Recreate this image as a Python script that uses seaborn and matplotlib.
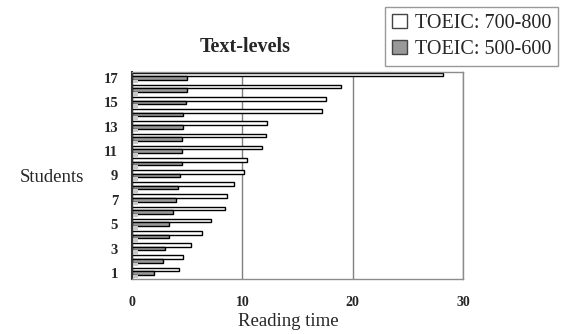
import matplotlib
matplotlib.use("Agg")
import matplotlib.pyplot as plt
import seaborn as sns
import pandas as pd
from matplotlib.patches import Patch

students = list(range(1, 18))
toeic_high = [4.25, 4.6, 5.35, 6.35, 7.15, 8.45, 8.6, 9.25, 10.15, 10.4,
              11.8, 12.1, 12.2, 17.2, 17.6, 18.9, 28.2]
toeic_low = [1.95, 2.8, 3.0, 3.35, 3.35, 3.75, 4.0, 4.2, 4.35, 4.5,
             4.5, 4.5, 4.65, 4.65, 4.85, 5.0, 5.0]
third = [0.5] * 17

label_high = "TOEIC: 700-800"
label_low = "TOEIC: 500-600"
label_third = "third"

rows = []
for s, a, b, c in zip(students, toeic_high, toeic_low, third):
    rows.append({"Students": str(s), "group": label_high, "Reading time": a})
    rows.append({"Students": str(s), "group": label_low, "Reading time": b})
    rows.append({"Students": str(s), "group": label_third, "Reading time": c})
df = pd.DataFrame(rows)

sns.set_theme(style="white")
plt.rcParams["font.family"] = ["Liberation Serif", "DejaVu Serif"]

fig = plt.figure(figsize=(5.66, 3.34), dpi=100)
ax = fig.add_axes([132 / 566, 1 - 279 / 334, (463 - 132) / 566, (279 - 72) / 334])

order = [str(s) for s in reversed(students)]
palette = {label_high: "white", label_low: "#999999", label_third: "#c8c8c8"}
sns.barplot(data=df, y="Students", x="Reading time", hue="group",
            order=order, hue_order=[label_high, label_low, label_third],
            palette=palette, orient="h", width=0.88, ax=ax,
            legend=False, errorbar=None, saturation=1)

# outline the two main series, leave the short third bars plain
for bar_container, edge in zip(ax.containers, ["black", "black", None]):
    for p in bar_container:
        if edge:
            p.set_edgecolor(edge)
            p.set_linewidth(1.0)
        else:
            p.set_linewidth(0)

ax.set_xlim(0, 30)
ax.set_xticks([0, 10, 20, 30])
ax.xaxis.grid(True, color="#808080", linewidth=1)
ax.yaxis.grid(False)
ax.set_axisbelow(True)

ax.set_yticks(range(len(order)))
ax.set_yticklabels([lab if int(lab) % 2 == 1 else "" for lab in order])
ax.tick_params(axis="y", length=0, pad=10, labelsize=10.5)
ax.tick_params(axis="x", length=0, pad=12, labelsize=10)
for t in ax.get_xticklabels() + ax.get_yticklabels():
    t.set_fontweight("bold")

ax.set_xlabel("")
ax.set_ylabel("")
for side in ["top", "right", "bottom"]:
    ax.spines[side].set_color("#8c8c8c")
    ax.spines[side].set_linewidth(1)
ax.spines["left"].set_color("#333333")
ax.spines["left"].set_linewidth(1.5)

fig.text(245 / 566, 1 - 47 / 334, "Text-levels", ha="center", va="center",
         fontsize=14.5, fontweight="bold")
fig.text(52 / 566, 1 - 177 / 334, "Students", ha="center", va="center",
         fontsize=13.5)
fig.text(288 / 566, 1 - 322 / 334, "Reading time", ha="center", va="center",
         fontsize=13.5)

handles = [Patch(facecolor="white", edgecolor="#444444", label=label_high),
           Patch(facecolor="#999999", edgecolor="#444444", label=label_low)]
leg = fig.legend(handles=handles, loc="upper right",
                 bbox_to_anchor=(558 / 566, 1 - 7 / 334), fontsize=14.5,
                 frameon=True, fancybox=False, handlelength=0.7,
                 handleheight=0.7, handletextpad=0.4, borderpad=0.35,
                 labelspacing=0.35, borderaxespad=0)
leg.get_frame().set_edgecolor("#808080")
leg.get_frame().set_linewidth(1)

fig.savefig("out.png", dpi=100)
